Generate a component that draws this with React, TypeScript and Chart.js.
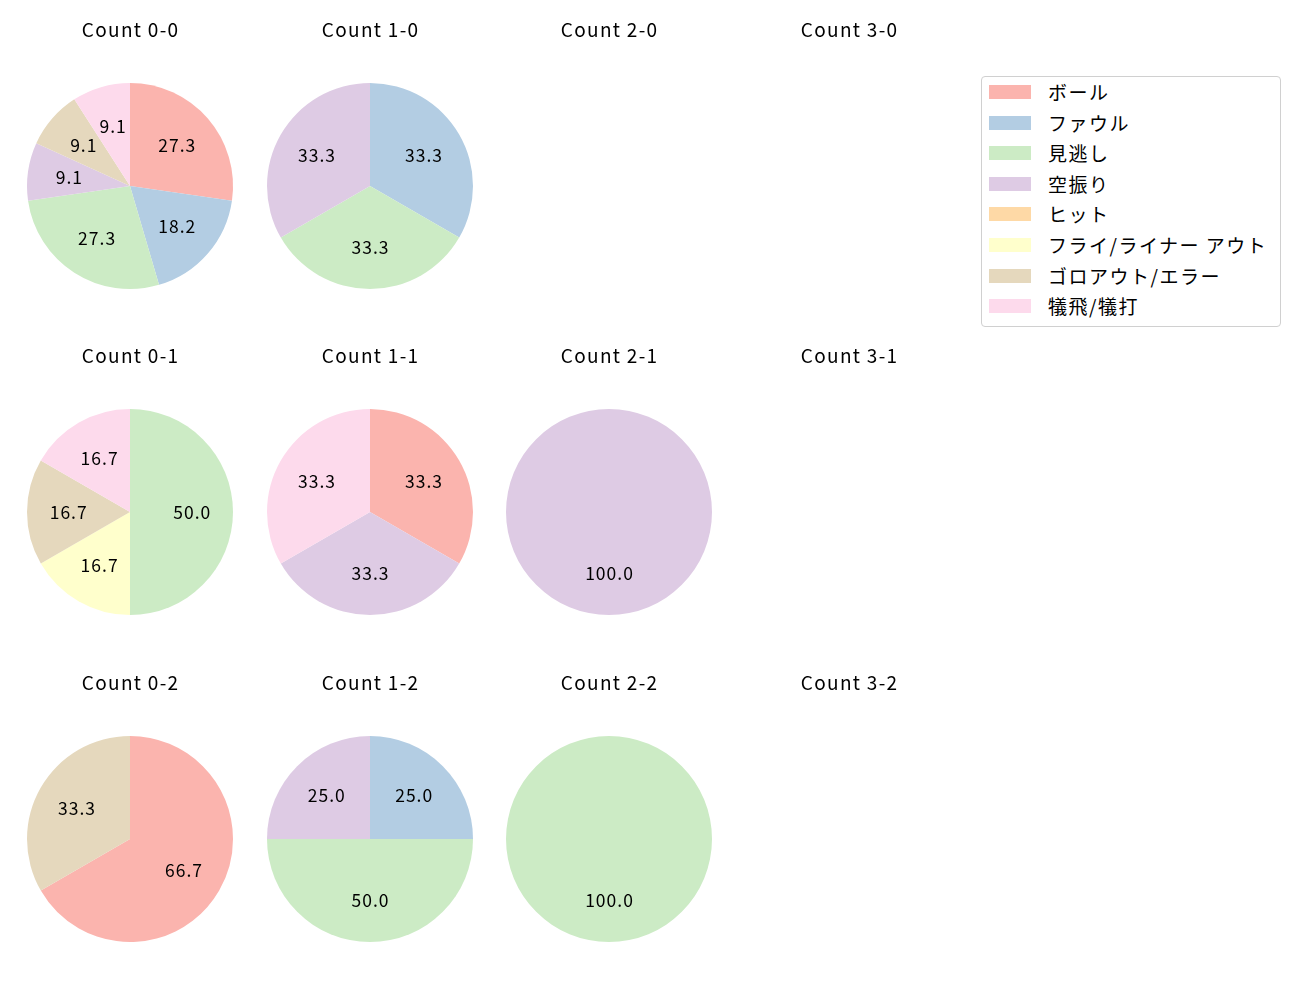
import React, { useEffect, useRef } from "react";
import { Chart, registerables } from "chart.js";
Chart.register(...registerables);

const categories = ["ボール", "ファウル", "見逃し", "空振り", "ヒット", "フライ/ライナー アウト", "ゴロアウト/エラー", "犠飛/犠打"];
const colors = ["#fbb4ae", "#b3cde3", "#ccebc5", "#decbe4", "#fed9a6", "#ffffcc", "#e5d8bd", "#fddaec"];

// counts per category for each ball-strike count (order = categories)
const count00 = [3, 2, 3, 1, 0, 0, 1, 1];
const count10 = [0, 1, 1, 1, 0, 0, 0, 0];
const count20: number[] = [];
const count30: number[] = [];
const count01 = [0, 0, 3, 0, 0, 1, 1, 1];
const count11 = [1, 0, 0, 1, 0, 0, 0, 1];
const count21 = [0, 0, 0, 1, 0, 0, 0, 0];
const count31: number[] = [];
const count02 = [2, 0, 0, 0, 0, 0, 1, 0];
const count12 = [0, 1, 2, 1, 0, 0, 0, 0];
const count22 = [0, 0, 1, 0, 0, 0, 0, 0];
const count32: number[] = [];

const panels = [
  { title: "Count 0-0", data: count00 }, { title: "Count 1-0", data: count10 }, { title: "Count 2-0", data: count20 }, { title: "Count 3-0", data: count30 },
  { title: "Count 0-1", data: count01 }, { title: "Count 1-1", data: count11 }, { title: "Count 2-1", data: count21 }, { title: "Count 3-1", data: count31 },
  { title: "Count 0-2", data: count02 }, { title: "Count 1-2", data: count12 }, { title: "Count 2-2", data: count22 }, { title: "Count 3-2", data: count32 },
];

const FONT = "'Noto Sans CJK JP', 'Noto Sans', sans-serif";
const colX = [130, 369.5, 609, 849];
const rowY = [185.5, 512, 839];
const R = 103;
const CW = 230;
const TOP = 72;
const CH = TOP + 2 * R + 12;

const labelPlugin = {
  id: "pctLabels",
  afterDatasetsDraw(chart: any) {
    const ctx = chart.ctx;
    // title
    ctx.save();
    ctx.font = `19px ${FONT}`;
    (ctx as any).letterSpacing = "1.3px";
    ctx.fillStyle = "#000";
    ctx.textAlign = "center";
    ctx.textBaseline = "middle";
    ctx.fillText(chart.options.plugins.title.text, chart.width / 2 + 0.6, TOP + R - 156.5);
    ctx.restore();

    const meta = chart.getDatasetMeta(0);
    if (!meta || !meta.data) return;
    const ds = chart.data.datasets[0];
    const vals: number[] = ds.data as number[];
    const total = vals.reduce((a, b) => a + b, 0);
    if (!total) return;
    ctx.save();
    ctx.font = `17.5px ${FONT}`;
    (ctx as any).letterSpacing = "1px";
    ctx.fillStyle = "#000";
    ctx.textAlign = "center";
    ctx.textBaseline = "middle";
    meta.data.forEach((arc: any, i: number) => {
      if (!vals[i]) return;
      const p = arc.getProps(["x", "y", "startAngle", "endAngle", "outerRadius"], true);
      const mid = (p.startAngle + p.endAngle) / 2;
      const r = p.outerRadius * 0.6;
      ctx.fillText(((vals[i] / total) * 100).toFixed(1), p.x + Math.cos(mid) * r + 0.5, p.y + Math.sin(mid) * r);
    });
    ctx.restore();
  },
};

function Pie({ title, data, left, top }: { title: string; data: number[]; left: number; top: number }) {
  const ref = useRef<HTMLCanvasElement>(null);
  useEffect(() => {
    if (!ref.current) return;
    const chart = new Chart(ref.current, {
      type: "pie",
      data: {
        labels: data.length ? categories : [],
        datasets: [{ data: data, backgroundColor: colors, borderWidth: 0, hoverOffset: 0 }],
      },
      options: {
        animation: false,
        responsive: false,
        layout: { padding: { left: 12, right: 12, top: TOP, bottom: 12 } },
        plugins: {
          legend: { display: false },
          tooltip: { enabled: false },
          title: { display: false, text: title },
        },
      },
      plugins: [labelPlugin],
    });
    return () => chart.destroy();
  }, []);
  return <canvas ref={ref} width={CW} height={CH} style={{ position: "absolute", left, top, width: CW, height: CH }} />;
}

export default function App() {
  return (
    <div style={{ position: "absolute", left: 0, top: 0, width: 1300, height: 1000, background: "#fff", fontFamily: FONT }}>
      {panels.map((p, i) => {
        const c = i % 4;
        const r = Math.floor(i / 4);
        return <Pie key={i} title={p.title} data={p.data} left={colX[c] - CW / 2} top={rowY[r] - R - TOP} />;
      })}
      <div style={{ position: "absolute", left: 981, top: 76, width: 298, height: 249, border: "1px solid #d0d0d0", borderRadius: 4, background: "#fff" }}>
        {categories.map((c, i) => (
          <div key={c} style={{ position: "absolute", left: 0, top: i * 30.6, height: 30, width: 298 }}>
            <div style={{ position: "absolute", left: 7, top: 8, width: 42, height: 14, background: colors[i] }} />
            <div style={{ position: "absolute", left: 66, top: 0, lineHeight: "30px", fontSize: 19, letterSpacing: "1.5px", color: "#000", whiteSpace: "nowrap" }}>{c}</div>
          </div>
        ))}
      </div>
    </div>
  );
}
